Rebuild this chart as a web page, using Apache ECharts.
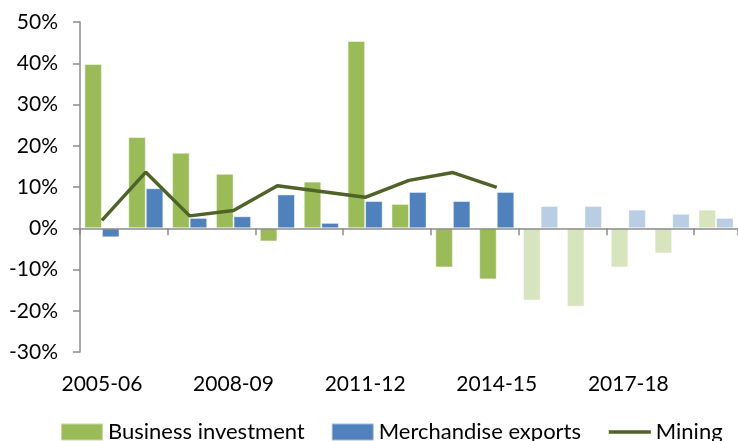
<!DOCTYPE html>
<html>
<head>
<meta charset="utf-8">
<script src="https://cdn.jsdelivr.net/npm/echarts@6/dist/echarts.min.js"></script>
<style>
html,body{margin:0;padding:0;background:#fff;}
#c{width:738px;height:441px;}
</style>
</head>
<body>
<div id="c"></div>
<script>
var categories = ['2005-06','2006-07','2007-08','2008-09','2009-10','2010-11','2011-12','2012-13','2013-14','2014-15','2015-16','2016-17','2017-18','2018-19','2019-20'];
var businessInvestment = [39.8, 22.1, 18.3, 13.2, -3.2, 11.3, 45.4, 5.9, -9.5, -12.4, -17.5, -19.0, -9.5, -6.1, 4.5];
var merchandiseExports = [-2.2, 9.7, 2.5, 2.9, 8.2, 1.3, 6.6, 8.8, 6.6, 8.8, 5.4, 5.4, 4.5, 3.5, 2.5];
var mining = [1.9, 13.6, 3.0, 4.3, 10.3, 8.9, 7.5, 11.6, 13.5, 9.9, null, null, null, null, null];
var forecastStart = 10;
var yTicks = [-30, -20, -10, 0, 10, 20, 30, 40, 50];

var GREEN = '#9bbb59', GREEN_L = '#d7e4bd', BLUE = '#4f81bd', BLUE_L = '#b9cde5', LINE = '#4f6228';
var FONT = 'Lato';
var FS = 21;

function barData(vals, dark, light) {
  return vals.map(function (v, i) {
    return { value: v, itemStyle: { color: i >= forecastStart ? light : dark } };
  });
}

var chart = echarts.init(document.getElementById('c'));
chart.setOption({
  animation: false,
  textStyle: { fontFamily: FONT },
  grid: { left: 80, right: 0, top: 22, bottom: 89, containLabel: false },
  legend: {
    left: 60, top: 421, padding: 0,
    itemWidth: 42, itemHeight: 17, itemGap: 26,
    textStyle: { fontFamily: FONT, fontSize: 22, color: '#000' },
    data: [
      { name: 'Business investment', icon: 'rect' },
      { name: 'Merchandise exports', icon: 'rect' },
      { name: 'Mining', itemStyle: { opacity: 0 }, lineStyle: { color: LINE, width: 3.5 } }
    ]
  },
  xAxis: [
    {
      type: 'category', data: categories, position: 'bottom',
      axisLine: { onZero: true, lineStyle: { color: '#8c8c8c', width: 1.5 } },
      axisTick: { show: true, alignWithLabel: false, length: 7, lineStyle: { color: '#8c8c8c', width: 1.5 } },
      axisLabel: { show: false },
      z: 3
    },
    {
      type: 'category', data: categories, position: 'bottom',
      axisLine: { show: false }, axisTick: { show: false },
      axisLabel: {
        show: true, interval: 2, margin: 22,
        fontFamily: FONT, fontSize: FS, color: '#000'
      }
    }
  ],
  yAxis: {
    type: 'value', min: yTicks[0], max: yTicks[yTicks.length - 1], interval: 10,
    axisLine: { show: true, lineStyle: { color: '#8c8c8c', width: 1.5 } },
    axisTick: { show: true, length: 7, lineStyle: { color: '#8c8c8c', width: 1.5 } },
    splitLine: { show: false },
    axisLabel: {
      margin: 22, fontFamily: FONT, fontSize: FS, color: '#000',
      formatter: function (v) { return v + '%'; }
    }
  },
  series: [
    {
      name: 'Business investment', type: 'bar', xAxisIndex: 0,
      barGap: '0%', barCategoryGap: '20%',
      itemStyle: { color: GREEN, borderColor: 'rgba(255,255,255,0.45)', borderWidth: 1 },
      data: barData(businessInvestment, GREEN, GREEN_L)
    },
    {
      name: 'Merchandise exports', type: 'bar', xAxisIndex: 0,
      barGap: '0%', barCategoryGap: '20%',
      itemStyle: { color: BLUE, borderColor: 'rgba(255,255,255,0.45)', borderWidth: 1 },
      data: barData(merchandiseExports, BLUE, BLUE_L)
    },
    {
      name: 'Mining', type: 'line', xAxisIndex: 0,
      symbol: 'none', connectNulls: false, z: 5,
      lineStyle: { color: LINE, width: 3.5 },
      itemStyle: { color: LINE },
      data: mining
    }
  ]
});
</script>
</body>
</html>
